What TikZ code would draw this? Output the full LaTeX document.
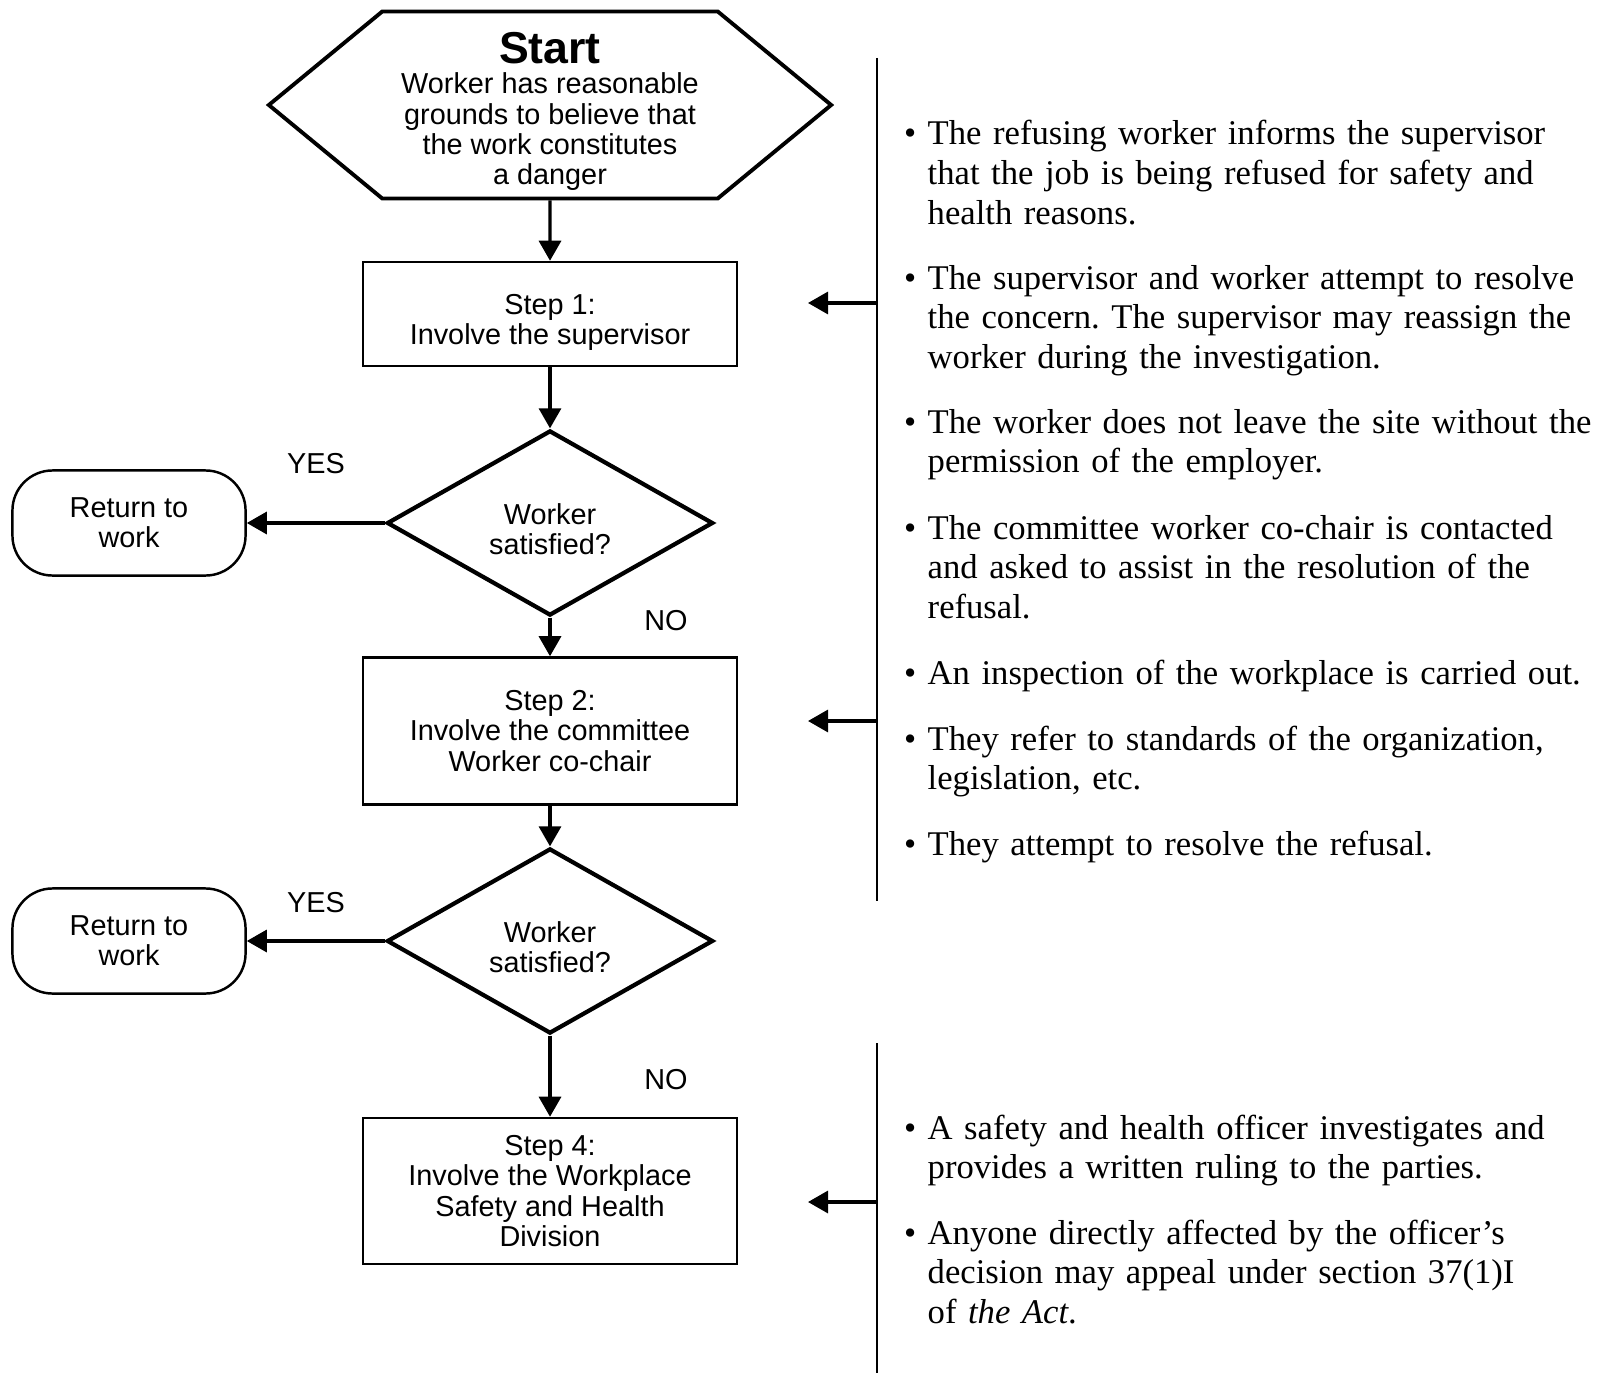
\documentclass[tikz,border=0pt]{standalone}
\usepackage{fontspec}
\setmainfont{Liberation Sans}
\newfontfamily\notefont{Liberation Serif}
\usetikzlibrary{arrows.meta,shapes.geometric,shapes.misc,shapes.symbols,positioning}
\frenchspacing

\begin{document}
\begin{tikzpicture}[
        x=0.01cm, y=-0.01cm,
        every node/.style={font=\fontsize{8.2}{8.6}\selectfont, align=center},
        hexa/.style={draw, signal, signal to=west and east, signal pointer angle=79, line width=1.1pt, minimum width=5.62cm, minimum height=1.87cm, inner sep=0pt},
        box/.style={draw, line width=0.7pt, minimum width=3.74cm, inner sep=0pt},
        decide/.style={draw, diamond, aspect=1.76, line width=1.2pt, minimum width=3.26cm, minimum height=1.85cm, inner sep=0pt},
        back/.style={draw, rounded corners=0.4cm, line width=0.7pt, minimum width=2.33cm, minimum height=1.05cm},
        ar/.style={-{Triangle[length=0.2cm,width=0.22cm]}, line width=0.9pt},
        bar/.style={line width=0.7pt},
        note/.style={anchor=base west, text width=7cm, align=left, inner sep=0pt, font=\notefont\fontsize{9.85}{11.3}\selectfont},
    ]
    \useasboundingbox (0,0) rectangle (1600,1373);

    \node[hexa] (start) at (550,105) {\rule{0pt}{12.6pt}{\fontsize{12.7}{14}\selectfont\bfseries Start}\\Worker has reasonable\\grounds to believe that\\the work constitutes\\a danger};
    \node[box, minimum height=1.04cm] (s1) at (550,314) {\rule{0pt}{10.4pt}Step 1:\\Involve the supervisor};
    \node[decide] (d1) at (550,523) {\rule{0pt}{9.4pt}Worker\\satisfied?};
    \node[back] (r1) at (129,523) {Return to\\work};
    \node[box, minimum height=1.47cm] (s2) at (550,731) {Step 2:\\Involve the committee\\Worker co-chair};
    \node[decide] (d2) at (550,941) {\rule{0pt}{9.4pt}Worker\\satisfied?};
    \node[back] (r2) at (129,941) {Return to\\work};
    \node[box, minimum height=1.46cm] (s4) at (550,1191) {Step 4:\\Involve the Workplace\\Safety and Health\\Division};

    \node (y1) at (316,464) {YES};
    \node (no1) at (666,621) {NO};
    \node (y2) at (316,903) {YES};
    \node (no2) at (666,1080) {NO};

    \path[ar]
    (start) edge (s1)
    (s1) edge (d1)
    (d1) edge (s2) edge (r1)
    (s2) edge (d2)
    (d2) edge (s4) edge (r2)
    ;

    \coordinate (b1t) at (877,58);
    \coordinate (b1b) at (877,901);
    \coordinate (b2t) at (877,1043);
    \coordinate (b2b) at (877,1373);
    \draw[bar] (b1t) -- (b1b);
    \draw[bar] (b2t) -- (b2b);

    \coordinate (a1) at (877,303);
    \coordinate (t1) at (808,303);
    \coordinate (a2) at (877,721);
    \coordinate (t2) at (808,721);
    \coordinate (a3) at (877,1202);
    \coordinate (t3) at (808,1202);
    \draw[ar] (a1) -- (t1);
    \draw[ar] (a2) -- (t2);
    \draw[ar] (a3) -- (t3);

    \node[note] (n1) at (927,145) {\llap{\textbullet\ }The refusing worker informs the supervisor\\that the job is being refused for safety and\\health reasons.};
    \node[note] (n2) at (927,289) {\llap{\textbullet\ }The supervisor and worker attempt to resolve\\the concern. The supervisor may reassign the\\worker during the investigation.};
    \node[note] (n3) at (927,433) {\llap{\textbullet\ }The worker does not leave the site without the\\permission of the employer.};
    \node[note] (n4) at (927,539) {\llap{\textbullet\ }The committee worker co-chair is contacted\\and asked to assist in the resolution of the\\refusal.};
    \node[note] (n5) at (927,684) {\llap{\textbullet\ }An inspection of the workplace is carried out.};
    \node[note] (n6) at (927,750) {\llap{\textbullet\ }They refer to standards of the organization,\\legislation, etc.};
    \node[note] (n7) at (927,855) {\llap{\textbullet\ }They attempt to resolve the refusal.};
    \node[note] (n8) at (927,1139) {\llap{\textbullet\ }A safety and health officer investigates and\\provides a written ruling to the parties.};
    \node[note] (n9) at (927,1244) {\llap{\textbullet\ }Anyone directly affected by the officer’s\\decision may appeal under section 37(1)I\\of \textit{the Act}.};
\end{tikzpicture}
\end{document}
